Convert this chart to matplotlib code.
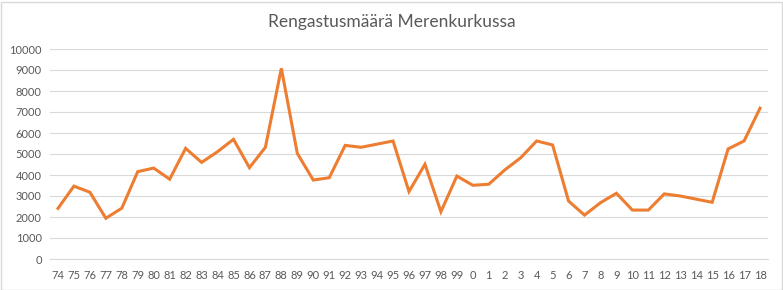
import numpy as np
import matplotlib
matplotlib.use("Agg")
import matplotlib.pyplot as plt

plt.rcParams["font.family"] = ["Lato", "DejaVu Sans"]

years = ["74", "75", "76", "77", "78", "79", "80", "81", "82", "83", "84", "85",
         "86", "87", "88", "89", "90", "91", "92", "93", "94", "95", "96", "97",
         "98", "99", "0", "1", "2", "3", "4", "5", "6", "7", "8", "9", "10", "11",
         "12", "13", "14", "15", "16", "17", "18"]
counts = [2410, 3470, 3180, 1940, 2420, 4160, 4330, 3800, 5270, 4600, 5110, 5700,
          4350, 5320, 9080, 5030, 3760, 3870, 5410, 5320, 5470, 5620, 3210, 4510,
          2250, 3950, 3510, 3560, 4240, 4820, 5620, 5430, 2760, 2090, 2680, 3130,
          2330, 2330, 3100, 3000, 2850, 2700, 5240, 5620, 7180]

fig = plt.figure(figsize=(7.83, 2.9), dpi=100)
ax = fig.add_axes([50 / 783, 31 / 290, 718 / 783, 210 / 290])

x = np.arange(len(years))
ax.plot(x, counts, color="#ED7D31", linewidth=2.2, solid_joinstyle="miter")

ax.set_xlim(-0.5, len(years) - 0.5)
ax.set_ylim(0, 10000)
ax.set_yticks(np.arange(0, 10001, 1000))
ax.set_xticks(x)
ax.set_xticklabels(years)
ax.yaxis.grid(True, color="#D9D9D9", linewidth=0.8)
ax.set_axisbelow(True)
for s in ["top", "right", "left"]:
    ax.spines[s].set_visible(False)
ax.spines["bottom"].set_color("#D9D9D9")
ax.tick_params(axis="both", length=0, labelsize=8, colors="#595959", pad=6)
ax.tick_params(axis="x", pad=8)

fig.suptitle("Rengastusmäärä Merenkurkussa", y=0.95, fontsize=12.5, color="#595959")

border = plt.Rectangle((0.5 / 783, 0.5 / 290), 781 / 783, 288 / 290, transform=fig.transFigure,
                       fill=False, edgecolor="#D9D9D9", linewidth=1)
fig.patches.append(border)

fig.savefig("out.png", dpi=100)
